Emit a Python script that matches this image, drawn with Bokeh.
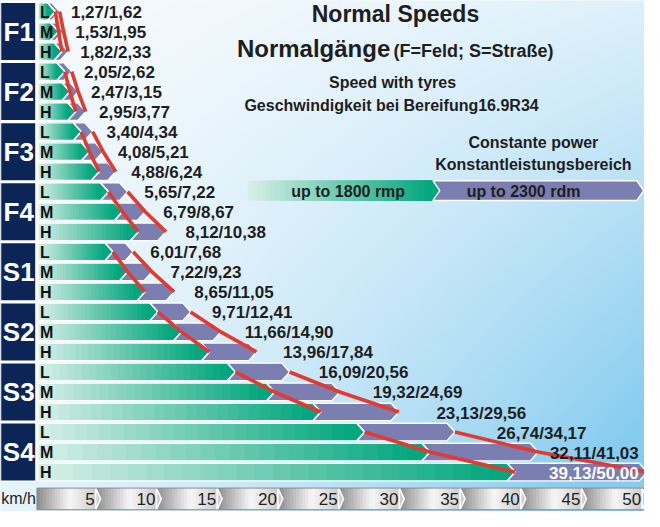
import numpy as np
from bokeh.plotting import figure
from bokeh.models import Range1d
from bokeh.core.properties import value
from bokeh.embed import file_html
from bokeh.resources import INLINE

# ---------------- data ----------------
groups = ["F1", "F2", "F3", "F4", "S1", "S2", "S3", "S4"]
ranges_lmh = ["L", "M", "H"]
speed_1800 = [1.27, 1.53, 1.82, 2.05, 2.47, 2.95, 3.40, 4.08, 4.88,
              5.65, 6.79, 8.12, 6.01, 7.22, 8.65, 9.71, 11.66, 13.96,
              16.09, 19.32, 23.13, 26.74, 32.11, 39.13]
speed_2300 = [1.62, 1.95, 2.33, 2.62, 3.15, 3.77, 4.34, 5.21, 6.24,
              7.22, 8.67, 10.38, 7.68, 9.23, 11.05, 12.41, 14.90, 17.84,
              20.56, 24.69, 29.56, 34.17, 41.03, 50.00]
axis_ticks = [5, 10, 15, 20, 25, 30, 35, 40, 45, 50]
axis_unit = "km/h"
title_1 = "Normal Speeds"
title_2 = "Normalgänge"
title_2b = "(F=Feld; S=Straße)"
sub_1 = "Speed with tyres"
sub_2 = "Geschwindigkeit bei Bereifung16.9R34"
power_1 = "Constante power"
power_2 = "Konstantleistungsbereich"
legend_1 = "up to 1800 rmp"
legend_2 = "up to 2300 rdm"

# ---------------- layout ----------------
W, H = 644, 511
K = 0.985
REF_X0, REF_PPK = 47.0, 12.33
REF_ROW0, REF_ROWH = 19.17, 20.33
x_start = (7 - REF_X0) / REF_PPK
x_end = x_start + W / K / REF_PPK
y_top = (8 - REF_ROW0) / REF_ROWH
y_bot = y_top + H / K / REF_ROWH


def X(px):
    return (px - REF_X0) / REF_PPK


def Y(py):
    return (py - REF_ROW0) / REF_ROWH


FONT = value("Liberation Sans")
TXT = "#1e1e1e"
GREEN_L = np.array([216, 239, 231])
GREEN_D = np.array([0, 166, 124])
PURPLE = "#7a7eb1"
NAVY = "#0c2557"
RED = "#e5392f"


def hexc(c):
    c = np.clip(np.round(c), 0, 255).astype(int)
    return "#%02x%02x%02x" % tuple(c)


p = figure(width=W, height=H, output_backend="svg", toolbar_location=None,
           x_range=Range1d(x_start, x_end), y_range=Range1d(y_bot, y_top),
           min_border=0, min_border_left=0, min_border_right=0,
           min_border_top=0, min_border_bottom=0)
p.axis.visible = False
p.grid.visible = False
p.outline_line_color = None
p.background_fill_color = "#eaf5fc"
p.border_fill_color = "#eaf5fc"

# ---------------- background gradient ----------------
hi, wi = 256, 322
u = np.linspace(0, 1, wi)[None, :]
v = np.linspace(0, 1, hi)[:, None]
t = np.clip(0.16 * v + (u ** 1.4) * (0.22 + 0.78 * v), 0, 1)
c0 = np.array([247, 251, 254])
c1 = np.array([134, 204, 239])
img = np.empty((hi, wi), dtype=np.uint32)
view = img.view(dtype=np.uint8).reshape((hi, wi, 4))
for k in range(3):
    view[:, :, k] = (c0[k] + (c1[k] - c0[k]) * t).astype(np.uint8)
view[:, :, 3] = 255
p.image_rgba(image=[img], x=x_start, y=y_top, dw=x_end - x_start, dh=y_bot - y_top)


def gradient_slices(x0, x1, ctop, cbot, colors_fn, n, L, R, T, B, C):
    # each slice runs to the end of the bar; later slices cover earlier ones (no seams)
    edges = np.linspace(x0, x1, n + 1)
    for k in range(n):
        L.append(edges[k]); R.append(x1)
        T.append(ctop); B.append(cbot)
        C.append(colors_fn((k + 0.5) / n))


def green_at(f):
    return hexc(GREEN_L + (GREEN_D - GREEN_L) * f)


# ---------------- bars ----------------
d = 8 / REF_PPK
hh = 0.44
bar_x0 = X(45)
L, R, T, B, C = [], [], [], [], []
tri_x, tri_y = [], []
pur_x, pur_y = [], []
gout_x, gout_y = [], []
rows = list(range(len(speed_1800)))
for i in rows:
    v1, v2 = speed_1800[i], speed_2300[i]
    top, bot = i - hh, i + hh
    gradient_slices(bar_x0, v1 - d, top, bot, green_at, 26, L, R, T, B, C)
    tri_x.append([v1 - d - 0.02, v1, v1 - d - 0.02]); tri_y.append([top, i, bot])
    pur_x.append([v1 - d, v2 - d, v2, v2 - d, v1 - d, v1])
    pur_y.append([top, top, i, bot, bot, i])
    gout_x.append([bar_x0, v1 - d, v1, v1 - d, bar_x0])
    gout_y.append([top, top, i, bot, bot])
p.quad(left=L, right=R, top=T, bottom=B, fill_color=C, line_color=None)
p.patches(tri_x, tri_y, fill_color=hexc(GREEN_D), line_color=None)
p.patches(pur_x, pur_y, fill_color=PURPLE, line_color="white", line_width=1.4)
p.patches(gout_x, gout_y, fill_alpha=0, line_color="white", line_width=1.4)

# ---------------- group boxes ----------------
p.quad(left=[X(7)] * len(groups), right=[X(43)] * len(groups),
       top=[3 * g - 0.5 + 0.04 for g in range(len(groups))],
       bottom=[3 * g + 2.5 - 0.04 for g in range(len(groups))],
       fill_color=NAVY, line_color="white", line_width=1.5)
p.text(x=[X(25.5)] * len(groups), y=[3 * g + 1 for g in range(len(groups))], text=groups,
       text_font=FONT, text_font_style="bold", text_font_size="26px", text_color="white",
       text_align="center", text_baseline="middle")
p.text(x=[X(47)] * len(rows), y=[r + 0.03 for r in rows], text=[ranges_lmh[i % 3] for i in rows],
       text_font=FONT, text_font_style="bold", text_font_size="16px", text_color="#111111",
       text_align="left", text_baseline="middle")

# ---------------- red lines ----------------
rx, ry = [], []
for g in range(len(groups)):
    idx = [3 * g, 3 * g + 1, 3 * g + 2]
    rx.append([speed_1800[j] for j in idx]); ry.append(idx)
    rx.append([speed_2300[j] for j in idx]); ry.append(idx)
p.multi_line(rx, ry, line_color=RED, line_width=3.6, line_cap="butt", line_join="round")

# ---------------- value labels ----------------
labels = [("%.2f/%.2f" % (a, b)).replace(".", ",") for a, b in zip(speed_1800, speed_2300)]
font_px = 17
right_edge = X(655)
lx, ly, lt = [], [], []
rx2, ry2, rt2, rc2 = [], [], [], []
for i in rows:
    v2 = speed_2300[i]
    off = (10 + 0.95 * v2) / REF_PPK
    width = 5.28 * font_px / K / REF_PPK
    xs = v2 + off
    if xs + width > right_edge:
        rx2.append(right_edge); ry2.append(i + 0.05); rt2.append(labels[i])
        rc2.append("white" if v2 >= right_edge else TXT)
    else:
        lx.append(xs); ly.append(i + 0.05); lt.append(labels[i])
p.text(x=lx, y=ly, text=lt, text_font=FONT, text_font_style="bold",
       text_font_size="%dpx" % font_px, text_color=TXT, text_align="left", text_baseline="middle")
p.text(x=rx2, y=ry2, text=rt2, text_font=FONT, text_font_style="bold",
       text_font_size="%dpx" % font_px, text_color=rc2, text_align="right", text_baseline="middle")


# ---------------- titles ----------------
def label(x, y, s, size, align="center", bold=True):
    p.text(x=[x], y=[y], text=[s], text_font=FONT, text_font_style="bold" if bold else "normal",
           text_font_size=size, text_color=TXT, text_align=align, text_baseline="middle")


label(X(408), Y(22), title_1, "23px")
label(X(247), Y(57), title_2, "24px", "left")
label(X(406), Y(59), title_2b, "18px", "left")
label(X(405), Y(91), sub_1, "16px")
label(X(404), Y(115), sub_2, "16px")
label(X(548), Y(152), power_1, "16px")
label(X(548), Y(174), power_2, "16px")

# ---------------- legend bar ----------------
lg_t, lg_b, lg_m = Y(191), Y(211), Y(201)
lg_x0, lg_x1, lg_x2 = X(258), X(453), X(660)
dl = 7 / REF_PPK
L, R, T, B, C = [], [], [], [], []
gradient_slices(lg_x0, lg_x1 - dl, lg_t, lg_b, green_at, 40, L, R, T, B, C)
p.quad(left=L, right=R, top=T, bottom=B, fill_color=C, line_color=None)
p.patches([[lg_x1 - dl - 0.02, lg_x1, lg_x1 - dl - 0.02]], [[lg_t, lg_m, lg_b]],
          fill_color=hexc(GREEN_D), line_color=None)
p.patches([[lg_x1 - dl, lg_x2 - dl, lg_x2, lg_x2 - dl, lg_x1 - dl, lg_x1]],
          [[lg_t, lg_t, lg_m, lg_b, lg_b, lg_m]], fill_color=PURPLE, line_color="white", line_width=1.4)
label(X(360), Y(202), legend_1, "16px")
label(X(538), Y(202), legend_2, "16px")

# ---------------- km/h axis band ----------------
ax_t, ax_b, ax_m = Y(503), Y(525), Y(514)
dc = 5 / REF_PPK
gray_stops = [(0.0, np.array([140, 140, 140])), (0.55, np.array([246, 246, 246])),
              (1.0, np.array([205, 205, 205]))]


def gray_at(f):
    for (f0, c0_), (f1, c1_) in zip(gray_stops[:-1], gray_stops[1:]):
        if f <= f1:
            return hexc(c0_ + (c1_ - c0_) * (f - f0) / (f1 - f0))
    return hexc(gray_stops[-1][1])


L, R, T, B, C = [], [], [], [], []
tips_x, tips_y, tips_c = [], [], []
prev = X(44)
for tk in axis_ticks:
    gradient_slices(prev, tk - dc, ax_t, ax_b, gray_at, 20, L, R, T, B, C)
    tips_x.append([tk - dc, tk, tk - dc]); tips_y.append([ax_t, ax_m, ax_b]); tips_c.append(gray_at(1.0))
    prev = tk - dc
p.quad(left=L, right=R, top=T, bottom=B, fill_color=C, line_color=None)
p.patches(tips_x, tips_y, fill_color=tips_c, line_color="white", line_width=1.5)
p.quad(left=[X(44)], right=[x_end + 1], top=[ax_t], bottom=[ax_b], fill_alpha=0,
       line_color="#8a8a8a", line_width=1)
p.text(x=[t_ - 6 / REF_PPK for t_ in axis_ticks], y=[ax_m] * len(axis_ticks),
       text=[str(t_) for t_ in axis_ticks], text_font=FONT, text_font_size="17px",
       text_color=TXT, text_align="right", text_baseline="middle")
label(X(43), ax_m, axis_unit, "16px", "right", bold=False)

open("out.html", "w").write(file_html(p, INLINE))
